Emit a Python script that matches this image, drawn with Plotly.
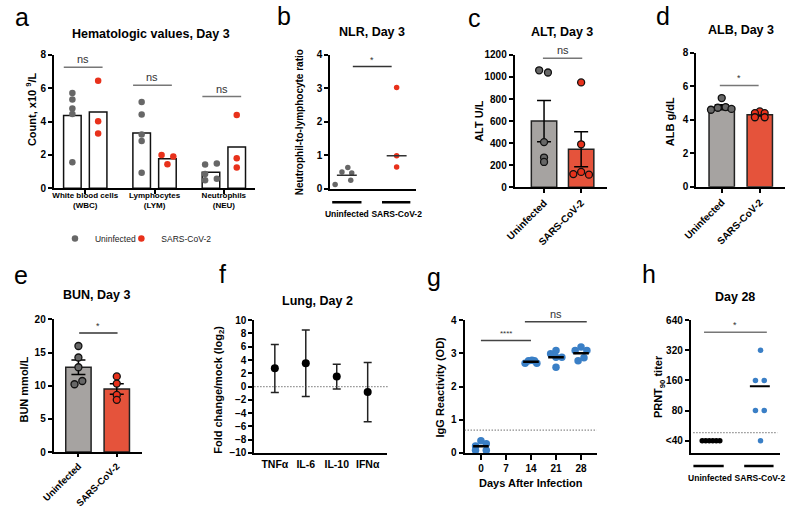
import math
import plotly.graph_objects as go

W, H = 798, 513
FONT = "Liberation Sans"

GRAY_DOT = "#676767"
RED_DOT = "#e8311b"
GRAY_BAR = "#a6a3a1"
RED_BAR = "#e5533b"
BLUE = "#3a7fc6"

# ---------------- data ----------------
# a - hematologic values
hem_cats = ["White blood cells<br>(WBC)", "Lymphocytes<br>(LYM)", "Neutrophils<br>(NEU)"]
hem_uninf = [[5.72, 5.33, 4.78, 4.45, 1.56], [5.17, 4.43, 3.22, 2.83, 0.94], [1.43, 1.49, 0.86, 0.49, 0.58]]
hem_sars = [[6.44, 4.02, 3.28], [1.99, 1.91, 1.44], [4.39, 1.81, 1.25]]
hem_bar_uninf = [4.37, 3.32, 0.96]
hem_bar_sars = [4.58, 1.78, 2.48]
hem_sig_y = [7.26, 6.18, 5.5]

# b - NLR
groups = ["Uninfected", "SARS-CoV-2"]
nlr_uninf = [0.63, 0.5, 0.47, 0.25, 0.12]
nlr_sars = [3.02, 0.98, 0.65]
nlr_center = [0.4, 0.98]
nlr_sig_y = 3.65

# c - ALT
alt_uninf = [1060, 1040, 410, 270, 230]
alt_sars = [950, 390, 120, 140, 115]
alt_mean = [600, 345]
alt_sem = [187, 158]
alt_sig_y = 1170

# d - ALB
alb_uninf = [5.3, 4.72, 4.76, 4.6, 4.65]
alb_sars = [4.5, 4.4, 4.4, 4.15, 4.15]
alb_mean = [4.75, 4.3]
alb_sem = [0.15, 0.07]
alb_sig_y = 6.05

# e - BUN
bun_uninf = [16.0, 14.26, 12.79, 10.23, 10.72]
bun_sars = [11.41, 10.33, 8.61, 7.87]
bun_mean = [12.8, 9.5]
bun_sem = [1.1, 0.8]
bun_sig_y = 17.95

# f - lung cytokines
cyt = ["TNFα", "IL-6", "IL-10", "IFNα"]
cyt_mean = [2.75, 3.53, 1.53, -0.82]
cyt_hi = [6.32, 8.53, 3.38, 3.63]
cyt_lo = [-0.88, -1.51, -0.38, -5.29]

# g - IgG
days = [0, 14, 21, 28]
igg = [[0.37, 0.21, 0.28, 0.08, 0.08],
       [2.70, 2.78, 2.79, 2.78, 2.70],
       [2.99, 3.09, 2.88, 2.88, 2.58],
       [3.09, 3.19, 3.09, 2.78, 2.87]]
igg_median = [0.2, 2.75, 2.88, 3.0]
igg_cutoff = 0.69
igg_sig_x = [[0, 14], [12.3, 29.6]]
igg_sig_y = [3.39, 3.95]
igg_sig = ["****", "ns"]

# h - PRNT90
prnt_uninf = [40, 40, 40, 40, 40, 40]
prnt_sars = [320, 160, 160, 80, 80, 40]
prnt_mean = 140
prnt_cutoff = 48
prnt_sig_y = 485

# jitter of the dots (pixels), only for drawing
JIT_A_U = [[0, 0, 0, 0, 0], [0, 0, 0, 0, 0], [-6, 6, -6, -6, 6]]
JIT_A_S = [[0, 0, 0], [-6, 6, 0], [0, 0, 0]]
JIT_B = [[1, -5, 5, 4, -12], [0, 0, 0]]
JIT_C = [[-5, 4, 0, 0, 0], [0, 0, -8, 0, 8]]
JIT_D = [[0, -4, 4, -11, 10], [0, -5, 5, -5, 5]]
JIT_E = [[0, 0, 0, -4, 4], [0, 0, 0, 0]]
JIT_G = [[0, -5.5, 5.5, -5.5, 5.5], [-6, -2.5, 1, 3.5, 6], [-5.5, 0, 0, 6, 0], [-6, 0, 6, -3, 3]]
JIT_H = [[-9, -5.4, -1.8, 1.8, 5.4, 9], [0.7, -4.5, 4.5, -4.5, 4.5, 0.7]]

DOT_LINE = dict(color="#555", width=1.2, dash="1px,2px")


def xd(a, b):
    return [a / W, b / W]


def yd(top, bottom):
    return [1 - bottom / H, 1 - top / H]


def tf(size=10, weight="bold"):
    return dict(family=FONT, size=size, color="black", weight=weight)


def ax(domain, rng, anchor, **kw):
    d = dict(domain=domain, range=rng, anchor=anchor, showline=True, linecolor="black",
             linewidth=2, showgrid=False, zeroline=False, ticks="outside", ticklen=4,
             tickwidth=2, tickcolor="black", tickfont=tf(), fixedrange=True)
    d.update(kw)
    return d


fig = go.Figure()
shapes = []
ann = []


def sig(xref, yref, x0, x1, y, text, color="#777", size=10, weight="normal", log=False):
    shapes.append(dict(type="line", xref=xref, yref=yref, x0=x0, x1=x1, y0=y, y1=y,
                       line=dict(color=color, width=1.5)))
    ya = math.log10(y) if log else y
    ann.append(dict(xref=xref, yref=yref, x=(x0 + x1) / 2, y=ya, text=text, showarrow=False,
                    yanchor="bottom", font=dict(family=FONT, size=size, color="#333", weight=weight)))


def dots(xs, ys, color, size, xa, ya, outline=False, name=None, legend=None):
    fig.add_trace(go.Scatter(
        x=xs, y=ys, mode="markers", name=name, showlegend=legend is not None,
        legend=legend or "legend", xaxis=xa, yaxis=ya,
        marker=dict(color=color, size=size,
                    line=dict(color="#111", width=1.3) if outline else dict(width=0)),
        hoverinfo="skip"))


# ---------------- a ----------------
A_SCALE = 71.0
off = 13.2 / A_SCALE
bx, by = [], []
for i in range(3):
    bx += [i - off, i + off]
    by += [hem_bar_uninf[i], hem_bar_sars[i]]
fig.add_trace(go.Bar(x=bx, y=by, width=18 / A_SCALE, xaxis="x", yaxis="y", showlegend=False,
                     marker=dict(color="white", line=dict(color="#111", width=1.5)), hoverinfo="skip"))
ux, uy, sx, sy = [], [], [], []
for i in range(3):
    ux += [i - off + j / A_SCALE for j in JIT_A_U[i]]
    uy += hem_uninf[i]
    sx += [i + off + j / A_SCALE for j in JIT_A_S[i]]
    sy += hem_sars[i]
dots(ux, uy, GRAY_DOT, 6.5, "x", "y", name="Uninfected", legend="legend")
dots(sx, sy, RED_DOT, 6.5, "x", "y", name="SARS-CoV-2", legend="legend2")
for i in range(3):
    sig("x", "y", i - 0.31, i + 0.25, hem_sig_y[i], "ns", size=11)

# ---------------- b ----------------
B_SCALE = 51.0
for g, vals in enumerate([nlr_uninf, nlr_sars]):
    dots([g + j / B_SCALE for j in JIT_B[g]], vals, [GRAY_DOT, RED_DOT][g], 5.5, "x2", "y2")
    fig.add_trace(go.Scatter(x=[g - 0.2, g + 0.2], y=[nlr_center[g]] * 2, mode="lines",
                             line=dict(color="#333", width=1.5), xaxis="x2", yaxis="y2",
                             showlegend=False, hoverinfo="skip"))
sig("x2", "y2", 0.12, 0.9, nlr_sig_y, "*", color="#333", size=9)
for x0, x1 in [(-0.294, 0.294), (0.706, 1.275)]:
    shapes.append(dict(type="line", xref="x2", yref="paper", x0=x0, x1=x1,
                       y0=1 - 201 / H, y1=1 - 201 / H, line=dict(color="black", width=2.5)))


# ---------------- c, d, e (bar + dots) ----------------
def bar_panel(xa, ya, mean, sem, uninf, sars, jit, scale, width_px, size=7):
    fig.add_trace(go.Bar(x=[0, 1], y=mean, width=width_px / scale, xaxis=xa, yaxis=ya,
                         showlegend=False, hoverinfo="skip",
                         marker=dict(color=[GRAY_BAR, RED_BAR], line=dict(color="#222", width=1.5)),
                         error_y=dict(type="data", array=sem, color="black", thickness=1.5, width=7)))
    dots([j / scale for j in jit[0]], uninf, GRAY_DOT, size, xa, ya, outline=True)
    dots([1 + j / scale for j in jit[1]], sars, RED_DOT, size, xa, ya, outline=True)


bar_panel("x3", "y3", alt_mean, alt_sem, alt_uninf, alt_sars, JIT_C, 38.0, 26)
sig("x3", "y3", -0.03, 1.03, alt_sig_y, "ns", size=11)
bar_panel("x4", "y4", alb_mean, alb_sem, alb_uninf, alb_sars, JIT_D, 39.0, 26)
sig("x4", "y4", -0.05, 0.97, alb_sig_y, "*", size=9)
bar_panel("x5", "y5", bun_mean, bun_sem, bun_uninf, bun_sars, JIT_E, 39.3, 26)
sig("x5", "y5", 0.02, 1.02, bun_sig_y, "*", color="#333", size=9)

# ---------------- f ----------------
fig.add_trace(go.Scatter(
    x=list(range(len(cyt))), y=cyt_mean, mode="markers", xaxis="x6", yaxis="y6", showlegend=False,
    marker=dict(color="black", size=8),
    error_y=dict(type="data", symmetric=False,
                 array=[h - m for h, m in zip(cyt_hi, cyt_mean)],
                 arrayminus=[m - l for m, l in zip(cyt_mean, cyt_lo)],
                 color="#222", thickness=1.5, width=4),
    hoverinfo="skip"))
shapes.append(dict(type="line", xref="x6 domain", yref="y6", x0=0, x1=1.01, y0=0, y1=0, line=DOT_LINE))

# ---------------- g ----------------
G_SCALE = 3.66
for k, d in enumerate(days):
    dots([d + j / G_SCALE for j in JIT_G[k]], igg[k], BLUE, 7.5, "x7", "y7")
    fig.add_trace(go.Scatter(x=[d - 8 / G_SCALE, d + 8 / G_SCALE], y=[igg_median[k]] * 2, mode="lines",
                             line=dict(color="black", width=2.5), xaxis="x7", yaxis="y7",
                             showlegend=False, hoverinfo="skip"))
shapes.append(dict(type="line", xref="x7 domain", yref="y7", x0=0, x1=1, y0=igg_cutoff, y1=igg_cutoff,
                   line=DOT_LINE))
for (x0, x1), y, t in zip(igg_sig_x, igg_sig_y, igg_sig):
    sig("x7", "y7", x0, x1, y, t, color="#444", size=11 if t == "ns" else 8)

# ---------------- h ----------------
H_SCALE = 51.0
dots([0.02 + j / H_SCALE for j in JIT_H[0]], prnt_uninf, "black", 5.5, "x8", "y8")
dots([1 + j / H_SCALE for j in JIT_H[1]], prnt_sars, BLUE, 5.5, "x8", "y8")
fig.add_trace(go.Scatter(x=[0.8, 1.2], y=[prnt_mean] * 2, mode="lines", line=dict(color="black", width=2),
                         xaxis="x8", yaxis="y8", showlegend=False, hoverinfo="skip"))
shapes.append(dict(type="line", xref="x8 domain", yref="y8", x0=0.03, x1=0.97,
                   y0=prnt_cutoff, y1=prnt_cutoff, line=DOT_LINE))
sig("x8", "y8", -0.12, 1.14, prnt_sig_y, "*", size=9, log=True)
for x0, x1 in [(-0.333, 0.275), (0.686, 1.275)]:
    shapes.append(dict(type="line", xref="x8", yref="paper", x0=x0, x1=x1,
                       y0=1 - 471 / H, y1=1 - 471 / H, line=dict(color="black", width=2.5)))

# ---------------- text ----------------
def text(x, y, s, size, weight="bold", angle=0):
    ann.append(dict(xref="paper", yref="paper", x=x / W, y=1 - y / H, text=s, showarrow=False,
                    xanchor="center", yanchor="middle", textangle=angle,
                    font=dict(family=FONT, size=size, color="black", weight=weight)))


for lt, (x, y) in zip("abcdefgh", [(9, 11), (278, 10), (473, 12), (666, 10),
                                    (8, 275), (215, 274), (431, 277), (651, 274)]):
    text(x, y, lt, 25, weight="normal")

text(141, 29, "Hematologic values, Day 3", 12.5)
text(368, 27, "NLR, Day 3", 12.5)
text(562, 27, "ALT, Day 3", 12.5)
text(746, 25, "ALB, Day 3", 12.5)
text(86, 296, "BUN, Day 3", 12.5)
text(312, 302, "Lung, Day 2", 12.5)
text(740, 298, "Day 28", 12.5)

text(18, 106, "Count, x10 <sup>9</sup>/L", 11, angle=-90)
text(293, 119, "Neutrophil-to-lymphocyte ratio", 10, angle=-90)
text(478, 118, "ALT U/L", 11, angle=-90)
text(673, 118, "ALB g/dL", 11, angle=-90)
text(11, 393, "BUN mmol/L", 11, angle=-90)
text(211, 393, "Fold change/mock (log<sub>2</sub>)", 11, angle=-90)
text(437, 390, "IgG Reactivity (OD)", 11, angle=-90)
text(662, 390, "PRNT<sub>90</sub> titer", 11, angle=-90)
text(531, 488, "Days After Infection", 11)

LEG = dict(orientation="h", xanchor="left", yanchor="middle", bgcolor="rgba(0,0,0,0)",
           font=dict(family=FONT, size=8.5, color="#222"), itemwidth=30)

fig.update_layout(
    width=W, height=H, margin=dict(l=0, r=0, t=0, b=0),
    paper_bgcolor="white", plot_bgcolor="white", barmode="overlay",
    font=dict(family=FONT, color="black"),
    showlegend=True,
    legend=dict(LEG, x=43 / W, y=1 - 238 / H),
    legend2=dict(LEG, x=111 / W, y=1 - 238 / H),
    xaxis=ax(xd(42, 248), [-0.451, 2.451], "y", tickvals=[0, 1, 2], ticktext=hem_cats, tickfont=tf(8),
             ticklabelstandoff=-6),
    yaxis=ax(yd(50, 186.7), [0, 8], "x", dtick=2),
    xaxis2=ax(xd(325, 413), [-0.333, 1.392], "y2", tickvals=[0, 1], ticktext=groups, ticks="",
              tickfont=tf(8.5), ticklabelstandoff=16),
    yaxis2=ax(yd(50, 187), [0, 4], "x2", dtick=1),
    xaxis3=ax(xd(514, 608), [-0.789, 1.684], "y3", tickvals=[0, 1], ticktext=groups, tickangle=-45,
              tickfont=tf(10)),
    yaxis3=ax(yd(50, 185.7), [0, 1200], "x3", dtick=200),
    xaxis4=ax(xd(700, 791), [-0.667, 1.667], "y4", tickvals=[0, 1], ticktext=groups, tickangle=-45,
              tickfont=tf(10)),
    yaxis4=ax(yd(48, 185), [0, 8], "x4", dtick=2),
    xaxis5=ax(xd(41.7, 131.7), [-0.644, 1.646], "y5", tickvals=[0, 1], ticktext=groups, tickangle=-45,
              tickfont=tf(9.5), ticklen=3),
    yaxis5=ax(yd(321, 456.7), [0, 20], "x5", dtick=5),
    xaxis6=ax(xd(247.3, 383.3), [-0.66, 3.63], "y6", tickvals=[0, 1, 2, 3], ticktext=cyt, ticks="",
              tickfont=tf(10.5)),
    yaxis6=ax(yd(321.7, 457.7), [-10, 10], "x6", dtick=2),
    xaxis7=ax(xd(462.7, 598), [-4.54, 32.4], "y7", tickvals=[0, 7, 14, 21, 28], ticklen=5),
    yaxis7=ax(yd(321.7, 457.7), [0, 4], "x7", dtick=1),
    xaxis8=ax(xd(694.3, 786), [-0.386, 1.41], "y8", tickvals=[0, 1], ticktext=groups, ticks="",
              tickfont=tf(8.5), ticklabelstandoff=16),
    yaxis8=ax(yd(321.7, 457.7), [math.log10(30.1), math.log10(640)], "x8", type="log",
              tickvals=[40, 80, 160, 320, 640], ticktext=["<40", "80", "160", "320", "640"]),
    shapes=shapes,
    annotations=ann,
)

# the page body has a default 8px margin; drop it so the figure sits at the window origin
fig.write_html("out.html", config={"displayModeBar": False},
               post_script="document.body.style.margin='0px';")
